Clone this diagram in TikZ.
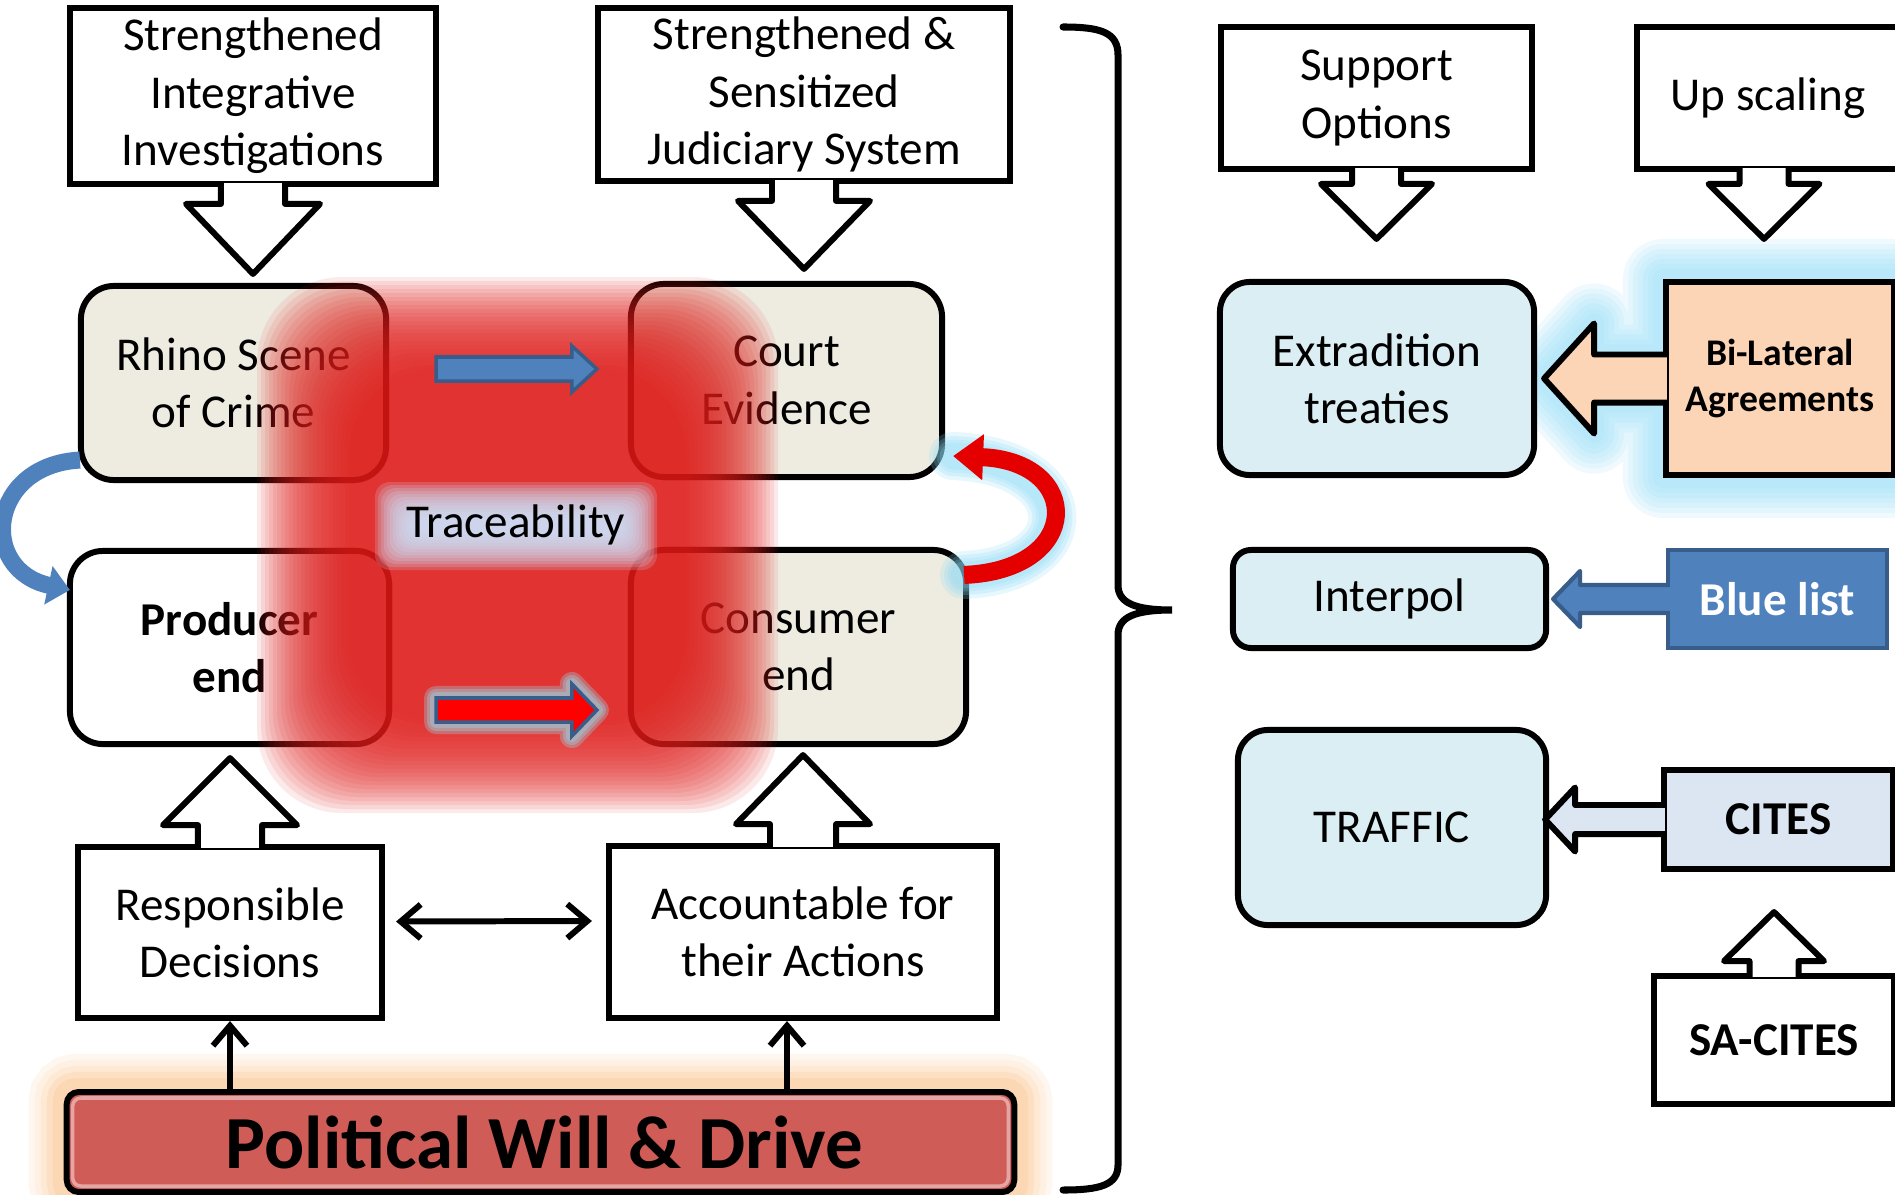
\documentclass[tikz,border=0pt]{standalone}
\usepackage{fontspec}
\setmainfont{Carlito}
\usepackage{xcolor}
\usetikzlibrary{positioning}
\usetikzlibrary{arrows.meta}
\usetikzlibrary{calc}

\definecolor{tanfill}{RGB}{238,236,225}
\definecolor{paleblue}{RGB}{219,238,244}
\definecolor{peach}{RGB}{251,213,181}
\definecolor{officeblue}{RGB}{79,129,189}
\definecolor{officedark}{RGB}{56,93,138}
\definecolor{citesfill}{RGB}{220,230,242}
\definecolor{barred}{RGB}{208,92,87}
\definecolor{glowcyan}{RGB}{140,218,245}
\definecolor{gloworange}{RGB}{250,190,130}
\definecolor{blobred}{RGB}{222,30,28}
\definecolor{traceblue}{RGB}{205,224,248}

\pgfdeclarelayer{glow}
\pgfsetlayers{glow,main}

\newcommand{\boxfont}{\fontsize{13.4}{16.3}\selectfont}

\begin{document}
\begin{tikzpicture}[x=0.01cm,y=-0.01cm]
  \tikzset{Plain/.style={rectangle, draw, line width=1.7pt, fill=white, align=center, font=\boxfont, inner sep=0pt}};
  \tikzset{Round/.style={Plain, rounded corners=0.33cm}};
  \tikzset{Side/.style={Plain, font=\boxfont\bfseries}};
  \tikzset{Edge/.style={draw, fill=white, line width=1.7pt, line join=round}};
  \tikzset{Thin/.style={line width=1.7pt, -{Straight Barb[length=0.2cm,width=0.34cm]}}};
  \tikzset{callout/.style args={#1/#2/#3}{to path={let \p1=(\tikztostart), \p2=(\tikztotarget), \n1={atan2(\y2-\y1,\x2-\x1)}, \n2={veclen(\x2-\x1,\y2-\y1)} in
    ($(\p1)+(\n1+90:#1)$) -- ($(\p1)+(\n1:\n2-#3)+(\n1+90:#1)$) -- ($(\p1)+(\n1:\n2-#3)+(\n1+90:#2)$) -- (\p2)
    -- ($(\p1)+(\n1:\n2-#3)+(\n1-90:#2)$) -- ($(\p1)+(\n1:\n2-#3)+(\n1-90:#1)$) -- ($(\p1)+(\n1-90:#1)$)}}};
  \tikzset{blockarrow/.style args={#1/#2/#3}{to path={let \p1=(\tikztostart), \p2=(\tikztotarget), \n1={atan2(\y2-\y1,\x2-\x1)}, \n2={veclen(\x2-\x1,\y2-\y1)} in
    ($(\p1)+(\n1+90:#1)$) -- ($(\p1)+(\n1:\n2-#3)+(\n1+90:#1)$) -- ($(\p1)+(\n1:\n2-#3)+(\n1+90:#2)$) -- (\p2)
    -- ($(\p1)+(\n1:\n2-#3)+(\n1-90:#2)$) -- ($(\p1)+(\n1:\n2-#3)+(\n1-90:#1)$) -- ($(\p1)+(\n1-90:#1)$) -- cycle}}};

  \useasboundingbox (0,0) rectangle (1895,1194);

  % left part
  \node[Plain, minimum width=3.66cm, minimum height=1.76cm] (invest) at (253,96) {Strengthened\\Integrative\\Investigations};
  \node[Plain, minimum width=4.12cm, minimum height=1.73cm] (judic) at (804,94.5) {Strengthened \&\\Sensitized\\Judiciary System};
  \node[Round, fill=tanfill, minimum width=3.05cm, minimum height=1.94cm] (rhino) at (233.5,383) {Rhino Scene\\of Crime};
  \node[Round, fill=tanfill, minimum width=3.11cm, minimum height=1.93cm] (court) at (786.5,380.5) {Court\\Evidence};
  \node[Round, minimum width=3.19cm, minimum height=1.93cm, font=\boxfont\bfseries] (producer) at (229.5,647.5) {Producer\\end};
  \node[Round, fill=tanfill, minimum width=3.35cm, minimum height=1.94cm] (consumer) at (798.5,647) {Consumer\\end};
  \node[Plain, minimum width=3.04cm, minimum height=1.71cm] (respons) at (230,932.5) {Responsible\\Decisions};
  \node[Plain, minimum width=3.88cm, minimum height=1.72cm] (account) at (803,932) {Accountable for\\their Actions};

  \coordinate (investfoot) at ($(invest.south)+(0,-4)$);
  \coordinate (investtip) at ($(invest.south |- rhino.north)+(0,-9)$);
  \coordinate (judicfoot) at ($(judic.south)+(0,-4)$);
  \coordinate (judictip) at ($(judic.south |- court.north)+(0,-12)$);
  \coordinate (resfoot) at ($(respons.north)+(0,4)$);
  \coordinate (restip) at ($(respons.north |- producer.south)+(0,11)$);
  \coordinate (accfoot) at ($(account.north)+(0,4)$);
  \coordinate (acctip) at ($(account.north |- consumer.south)+(0,8)$);
  \draw[callout=0.32cm/0.67cm/0.70cm, Edge] (investfoot) to (investtip);
  \draw[callout=0.32cm/0.66cm/0.68cm, Edge] (judicfoot) to (judictip);
  \draw[callout=0.32cm/0.67cm/0.67cm, Edge] (resfoot) to (restip);
  \draw[callout=0.33cm/0.67cm/0.69cm, Edge] (accfoot) to (acctip);

  % red haze
  \foreach \d in {48,44,...,-44}
    \fill[blobred, opacity=0.095, rounded corners=0.85cm] ({305-(\d)},{325-(\d)}) rectangle ({730+(\d)},{765+(\d)});
  \foreach \d in {30,27,...,-6}
    \fill[traceblue, opacity=0.2, rounded corners=0.15cm] ({405-(\d)},{512-(\d)}) rectangle ({627+(\d)},{540+(\d)});
  \node[font=\boxfont] (trace) at (516,525) {Traceability};

  \coordinate (bluefrom) at ($(rhino.east)+(47,-14)$);
  \coordinate (blueto) at ($(court.west)+(-31,-11.5)$);
  \coordinate (redfrom) at ($(producer.east)+(44,62.5)$);
  \coordinate (redto) at ($(consumer.west)+(-31,63)$);
  \draw[blockarrow=0.12cm/0.23cm/0.25cm, fill=officeblue, draw=officedark, line width=1pt] (bluefrom) to (blueto);
  \foreach \gw in {0.24,0.18,0.12}
    \draw[traceblue!70!cyan, line width=\gw cm, opacity=0.3, line join=round] (redfrom) to[blockarrow=0.12cm/0.26cm/0.25cm] (redto);
  \draw[blockarrow=0.12cm/0.26cm/0.25cm, fill=red, draw=officedark, line width=1pt] (redfrom) to (redto);

  % loops
  \coordinate (bluestart) at ($(rhino.south west)+(2,-23)$);
  \coordinate (blueend) at ($(producer.north west)+(3,42)$);
  \draw[officeblue, line width=0.17cm, -{Triangle[length=0.22cm,width=0.38cm]}] (bluestart) .. controls +(-92,5) and +(-92,-20) .. (blueend);
  \coordinate (redstart) at ($(consumer.north east)+(-5,28)$);
  \coordinate (redend) at ($(court.south east)+(8,-24)$);
  \foreach \gw in {0.48,0.40,0.33,0.27}
    \draw[glowcyan, line width=\gw cm, opacity=0.22, line cap=round] (redstart) .. controls +(120,-5) and +(130,5) .. (redend);
  \draw[red!90!black, line width=0.18cm, -{Triangle[length=0.3cm,width=0.44cm]}] (redstart) .. controls +(120,-5) and +(130,5) .. (redend);

  % political bar
  \node[Plain, fill=barred, rounded corners=0.12cm, minimum width=9.47cm, minimum height=1.0cm] (political) at (540.5,1142) {};
  \draw[barred!55!white, line width=1pt, rounded corners=0.08cm] ($(political.north west)+(9,9)$) rectangle ($(political.south east)+(-9,-9)$);
  \node[font=\fontsize{21.3}{25}\selectfont\bfseries] (politicaltext) at ($(political.center)+(4,0)$) {Political Will \& Drive};
  \begin{pgfonlayer}{glow}
    \foreach \gw/\op in {0.7/0.12,0.58/0.12,0.46/0.15,0.34/0.2,0.22/0.25}
      \draw[gloworange, line width=\gw cm, opacity=\op, rounded corners=0.12cm] (political.north west) rectangle (political.south east);
  \end{pgfonlayer}
  \coordinate (acctarget) at ($(account.south)+(-16,0)$);
  \draw[Thin] (respons.south |- political.north) -- (respons.south);
  \draw[Thin] (acctarget |- political.north) -- (acctarget);
  \draw[line width=1.7pt, {Straight Barb[length=0.2cm,width=0.34cm]}-{Straight Barb[length=0.2cm,width=0.34cm]}] ($(respons.east)+(11,-11)$) -- ($(account.west)+(-14,-11)$);

  % brace
  \draw[line width=2pt, line cap=round] (1063,27) .. controls (1100,27) and (1118,32) .. (1118,55) -- (1118,585)
    .. controls (1118,603) and (1135,610) .. (1172,610) .. controls (1135,610) and (1118,617) .. (1118,635)
    -- (1118,1165) .. controls (1118,1185) and (1100,1190) .. (1063,1190);

  % right part
  \node[Plain, minimum width=3.11cm, minimum height=1.42cm] (support) at (1376.5,98) {Support\\Options};
  \node[Plain, minimum width=2.62cm, minimum height=1.42cm] (upscale) at (1768,98) {Up scaling};
  \node[Round, fill=paleblue, rounded corners=0.3cm, minimum width=3.14cm, minimum height=1.93cm] (extrad) at (1377,378.5) {Extradition\\treaties};
  \node[Side, fill=peach, minimum width=2.28cm, minimum height=1.93cm, font=\fontsize{10.7}{12.9}\selectfont\bfseries] (bilat) at (1780,378.5) {Bi-Lateral\\Agreements};
  \node[Round, fill=paleblue, rounded corners=0.18cm, minimum width=3.13cm, minimum height=0.98cm] (interpol) at (1389.5,599) {Interpol};
  \node[Side, fill=officeblue, draw=officedark, line width=1.2pt, text=white, minimum width=2.19cm, minimum height=0.98cm] (bluelist) at (1777.5,599) {Blue list};
  \node[Round, fill=paleblue, rounded corners=0.3cm, minimum width=3.08cm, minimum height=1.95cm] (traffic) at (1392,827.5) {TRAFFIC};
  \node[Side, fill=citesfill, minimum width=2.29cm, minimum height=0.99cm] (cites) at (1778.5,819.5) {CITES};
  \node[Side, minimum width=2.40cm, minimum height=1.28cm] (sacites) at (1774,1040) {SA-CITES};

  \coordinate (supfoot) at ($(support.south)+(0,-4)$);
  \coordinate (suptip) at ($(support.south |- extrad.north)+(0,-40)$);
  \coordinate (upfoot) at ($(upscale.south)+(-4,-4)$);
  \coordinate (uptip) at ($(upscale.south |- extrad.north)+(-4,-40)$);
  \coordinate (bilatfoot) at ($(bilat.west)+(4,0)$);
  \coordinate (bilattip) at ($(extrad.east)+(7,0)$);
  \coordinate (bluefoot) at ($(bluelist.west)+(4,0)$);
  \coordinate (bluetip) at ($(interpol.east)+(4,0)$);
  \coordinate (citesfoot) at ($(cites.west)+(4,0)$);
  \coordinate (citestip) at ($(traffic.east |- cites.west)+(-4,0)$);
  \coordinate (safoot) at ($(sacites.north)+(0,4)$);
  \coordinate (satip) at ($(sacites.north |- cites.south)+(0,40)$);
  \begin{pgfonlayer}{glow}
    \foreach \gw in {0.8,0.7,0.6,0.5,0.4,0.3,0.2}
      \draw[glowcyan, line width=\gw cm, opacity=0.13, line join=round] (bilat.north west) rectangle (bilat.south east) (bilatfoot) to[callout=0.24cm/0.55cm/0.50cm] (bilattip);
  \end{pgfonlayer}
  \draw[callout=0.245cm/0.555cm/0.55cm, Edge] (supfoot) to (suptip);
  \draw[callout=0.245cm/0.555cm/0.55cm, Edge] (upfoot) to (uptip);
  \draw[callout=0.24cm/0.55cm/0.50cm, Edge, fill=peach] (bilatfoot) to (bilattip);
  \draw[callout=0.14cm/0.28cm/0.27cm, Edge, fill=officeblue, draw=officedark, line width=1.2pt] (bluefoot) to (bluetip);
  \draw[callout=0.145cm/0.32cm/0.30cm, Edge, fill=citesfill] (citesfoot) to (citestip);
  \draw[callout=0.245cm/0.50cm/0.49cm, Edge] (safoot) to (satip);
\end{tikzpicture}
\end{document}
